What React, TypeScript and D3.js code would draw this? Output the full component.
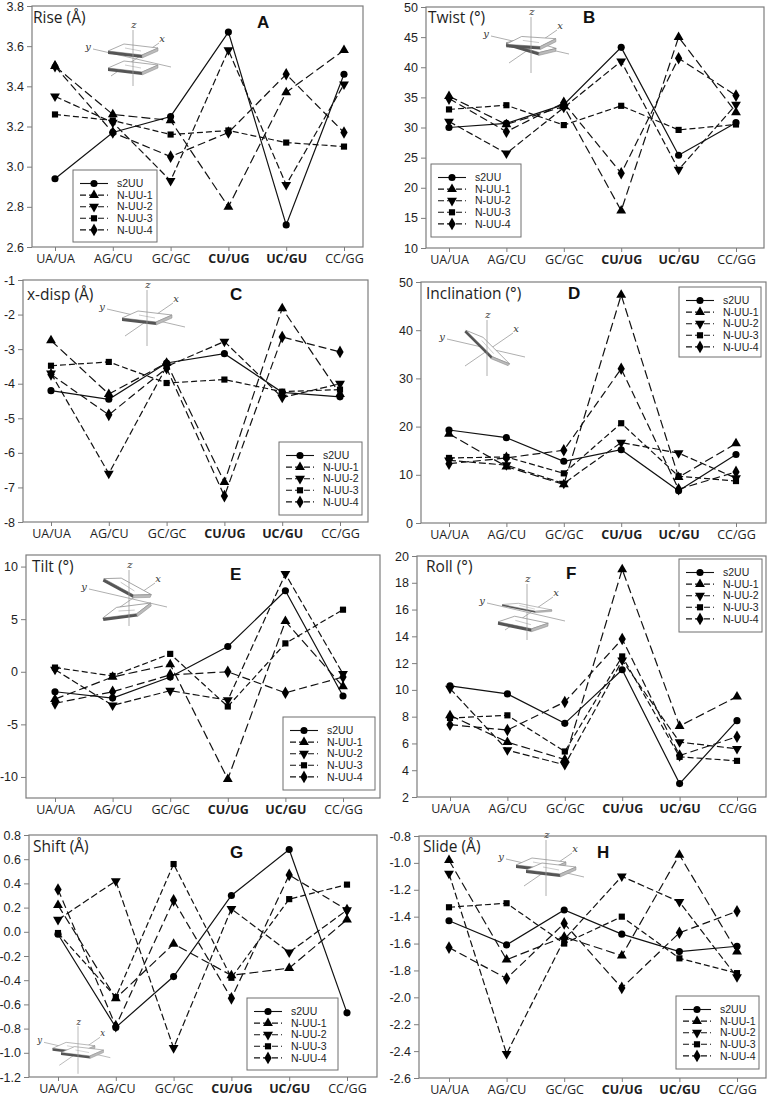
import * as React from 'react';
import * as d3 from 'd3';

const categories = ['UA/UA', 'AG/CU', 'GC/GC', 'CU/UG', 'UC/GU', 'CC/GG'];
const boldCategories = ['CU/UG', 'UC/GU'];
const seriesNames = ['s2UU', 'N-UU-1', 'N-UU-2', 'N-UU-3', 'N-UU-4'];

// one row per series (same order as seriesNames), one column per category
const rise = [
    [2.94, 3.17, 3.25, 3.67, 2.71, 3.46],
    [3.50, 3.26, 3.23, 2.80, 3.37, 3.58],
    [3.35, 3.22, 2.93, 3.58, 2.91, 3.41],
    [3.26, 3.23, 3.16, 3.18, 3.12, 3.10],
    [3.50, 3.17, 3.05, 3.17, 3.46, 3.17]
];
const twist = [
    [30.0, 30.7, 33.8, 43.3, 25.4, 30.8],
    [35.2, 30.5, 33.5, 16.2, 45.0, 32.5],
    [31.0, 25.7, 33.3, 41.0, 23.0, 33.8],
    [33.0, 33.7, 30.4, 33.6, 29.6, 30.5],
    [34.8, 29.3, 34.1, 22.4, 41.5, 35.3]
];
const xdisp = [
    [-4.20, -4.45, -3.40, -3.13, -4.25, -4.38],
    [-2.75, -4.30, -3.40, -6.85, -1.82, -4.30],
    [-3.70, -6.60, -3.50, -2.78, -4.40, -4.00],
    [-3.48, -3.37, -3.98, -3.88, -4.23, -4.17],
    [-3.73, -4.90, -3.55, -7.25, -2.65, -3.08]
];
const inclination = [
    [19.3, 17.7, 12.8, 15.2, 6.7, 14.2],
    [18.5, 11.7, 8.0, 47.3, 9.5, 16.5],
    [13.0, 12.0, 8.2, 16.7, 14.5, 9.3],
    [13.5, 13.7, 10.3, 20.7, 9.7, 8.7],
    [12.3, 13.5, 15.1, 32.0, 7.0, 10.6]
];
const tilt = [
    [-1.9, -2.5, -0.5, 2.4, 7.7, -2.3],
    [-2.6, -0.5, 0.7, -10.2, 4.8, -1.4],
    [0.2, -3.2, -1.8, -2.7, 9.3, -0.2],
    [0.4, -0.4, 1.7, -3.3, 2.7, 5.9],
    [-3.0, -1.9, -0.3, 0.0, -2.0, -0.5]
];
const roll = [
    [10.3, 9.7, 7.5, 11.5, 3.0, 7.7],
    [8.1, 6.1, 4.8, 19.0, 7.3, 9.5],
    [10.1, 5.5, 4.4, 12.2, 6.1, 5.6],
    [7.9, 8.1, 5.4, 12.5, 5.0, 4.7],
    [7.4, 7.0, 9.1, 13.8, 5.1, 6.5]
];
const shift = [
    [-0.02, -0.79, -0.37, 0.30, 0.68, -0.67],
    [0.22, -0.55, -0.10, -0.36, -0.30, 0.10],
    [0.10, 0.42, -0.96, 0.19, -0.17, 0.18],
    [-0.01, -0.54, 0.56, -0.38, 0.27, 0.39],
    [0.35, -0.78, 0.26, -0.55, 0.47, 0.18]
];
const slide = [
    [-1.43, -1.61, -1.35, -1.53, -1.66, -1.62],
    [-0.98, -1.72, -1.55, -1.69, -0.94, -1.66],
    [-1.08, -2.42, -1.57, -1.10, -1.29, -1.85],
    [-1.33, -1.30, -1.60, -1.40, -1.71, -1.82],
    [-1.63, -1.86, -1.45, -1.93, -1.52, -1.36]
];

const riseTicks = [2.6, 2.8, 3.0, 3.2, 3.4, 3.6, 3.8];
const twistTicks = [10, 15, 20, 25, 30, 35, 40, 45, 50];
const xdispTicks = [-8, -7, -6, -5, -4, -3, -2, -1];
const inclinationTicks = [0, 10, 20, 30, 40, 50];
const tiltTicks = [-10, -5, 0, 5, 10];
const rollTicks = [2, 4, 6, 8, 10, 12, 14, 16, 18, 20];
const shiftTicks = [-1.2, -1.0, -0.8, -0.6, -0.4, -0.2, 0.0, 0.2, 0.4, 0.6, 0.8];
const slideTicks = [-2.6, -2.4, -2.2, -2.0, -1.8, -1.6, -1.4, -1.2, -1.0, -0.8];

const dashes = [null, '9,4', '7,3', '6,3', '8,4'];
const symbols = [d3.symbolCircle, d3.symbolTriangle, d3.symbolTriangle, d3.symbolSquare, d3.symbolDiamond];
const symbolSizes = [40, 42, 42, 38, 46];

const panels = [
    {title: 'Rise (Å)', letter: 'A', data: rise, ticks: riseTicks, dec: 1, domain: [2.6, 3.8],
        box: {l: 32, t: 6, r: 363, b: 247}, padL: 23, padR: 19,
        titlePos: [33, 23], letterPos: [257, 28], legend: [73, 170, 84, 72],
        inset: {x: 133, y: 58, s: 1, slabs: ['translate(0,-7)', 'translate(0,10)']}},
    {title: 'Twist (°)', letter: 'B', data: twist, ticks: twistTicks, dec: 0, domain: [10, 50],
        box: {l: 426, t: 7, r: 764, b: 248}, padL: 23, padR: 28,
        titlePos: [428, 23], letterPos: [583, 23], legend: [431, 164, 90, 73],
        inset: {x: 531, y: 45, s: 1, slabs: ['translate(0,2) rotate(10)', 'translate(0,-2) rotate(-3)']}},
    {title: 'x-disp (Å)', letter: 'C', data: xdisp, ticks: xdispTicks, dec: 0, domain: [-8, -1],
        box: {l: 23, t: 280, r: 368, b: 522}, padL: 28, padR: 28,
        titlePos: [27, 300], letterPos: [230, 300], legend: [279, 442, 83, 73],
        inset: {x: 147, y: 318, s: 1, slabs: ['translate(0,0)']}},
    {title: 'Inclination (°)', letter: 'D', data: inclination, ticks: inclinationTicks, dec: 0, domain: [0, 50],
        box: {l: 421, t: 282, r: 766, b: 523}, padL: 28, padR: 30,
        titlePos: [426, 299], letterPos: [568, 299], legend: [679, 287, 82, 70],
        inset: {x: 487, y: 348, s: 1, slabs: ['rotate(40) scale(1.1,0.8)']}},
    {title: 'Tilt (°)', letter: 'E', data: tilt, ticks: tiltTicks, dec: 0, domain: [-12, 11.1],
        box: {l: 26, t: 555, r: 380, b: 798}, padL: 29, padR: 37,
        titlePos: [32, 572], letterPos: [230, 580], legend: [283, 717, 92, 73],
        inset: {x: 129, y: 598, s: 1, slabs: ['translate(-2,-10) rotate(22)', 'translate(-2,14) rotate(-14)']}},
    {title: 'Roll (°)', letter: 'F', data: roll, ticks: rollTicks, dec: 0, domain: [2, 20],
        box: {l: 417, t: 556, r: 766, b: 797}, padL: 33, padR: 29,
        titlePos: [426, 572], letterPos: [566, 579], legend: [679, 559, 83, 73],
        inset: {x: 527, y: 612, s: 1, slabs: ['translate(0,-4) rotate(8) scale(1,0.5)', 'translate(-4,12) rotate(5)']}},
    {title: 'Shift (Å)', letter: 'G', data: shift, ticks: shiftTicks, dec: 1, domain: [-1.2, 0.8],
        box: {l: 29, t: 835, r: 377, b: 1077}, padL: 29, padR: 30,
        titlePos: [33, 852], letterPos: [230, 858], legend: [247, 998, 91, 72],
        inset: {x: 78, y: 1050, s: 0.85, slabs: ['translate(-5,-2)', 'translate(5,3)']}},
    {title: 'Slide (Å)', letter: 'H', data: slide, ticks: slideTicks, dec: 1, domain: [-2.6, -0.8],
        box: {l: 419, t: 836, r: 766, b: 1078}, padL: 30, padR: 29,
        titlePos: [423, 852], letterPos: [597, 858], legend: [676, 996, 83, 73],
        inset: {x: 546, y: 868, s: 1, slabs: ['translate(-5,-3)', 'translate(5,2)']}}
];

const frameColor = '#7d7d7d';
const textColor = '#1e1e1e';

function drawSymbol(g, i, cx, cy) {
    const path = d3.symbol().type(symbols[i]).size(symbolSizes[i])();
    g.append('path')
        .attr('d', path)
        .attr('transform', 'translate(' + cx + ',' + cy + ')' + (i === 2 ? ' rotate(180)' : ''))
        .attr('fill', '#000');
}

function drawInset(svg, ins) {
    const g = svg.append('g').attr('transform', 'translate(' + ins.x + ',' + ins.y + ') scale(' + ins.s + ')');
    const axisColor = '#9a9a9a';
    g.append('line').attr('x1', -40).attr('y1', -9).attr('x2', 38).attr('y2', 9).attr('stroke', axisColor).attr('stroke-width', 0.8);
    g.append('line').attr('x1', -22).attr('y1', 18).attr('x2', 26).attr('y2', -15).attr('stroke', axisColor).attr('stroke-width', 0.8);
    ins.slabs.forEach(function(t) {
        const s = g.append('g').attr('transform', t);
        s.append('polygon').attr('points', '-25,0 -9,-7 25,-3 9,4').attr('fill', '#fff').attr('stroke', '#888').attr('stroke-width', 0.7);
        s.append('polygon').attr('points', '-25,0 9,4 9,7 -25,3').attr('fill', '#555');
        s.append('polygon').attr('points', '9,4 25,-3 25,0 9,7').attr('fill', '#bbb').attr('stroke', '#888').attr('stroke-width', 0.5);
        s.append('line').attr('x1', -8).attr('y1', -3).attr('x2', 8).attr('y2', 0).attr('stroke', '#aaa').attr('stroke-width', 0.6);
    });
    g.append('line').attr('x1', 0).attr('y1', -28).attr('x2', 0).attr('y2', 28).attr('stroke', axisColor).attr('stroke-width', 0.8);
    const lab = {'font-family': 'DejaVu Serif, serif', 'font-style': 'italic', 'font-size': 10, fill: '#333'};
    const z = g.append('text').attr('x', 1).attr('y', -30).attr('text-anchor', 'middle').text('z');
    const y = g.append('text').attr('x', -45).attr('y', -8).attr('text-anchor', 'middle').text('y');
    const x = g.append('text').attr('x', 29).attr('y', -16).attr('text-anchor', 'middle').text('x');
    [z, y, x].forEach(function(t) {
        Object.keys(lab).forEach(function(k) { t.attr(k, lab[k]); });
    });
}

function drawPanel(svg, p) {
    const g = svg.append('g');
    const x = d3.scalePoint().domain(categories).range([p.box.l + p.padL, p.box.r - p.padR]);
    const y = d3.scaleLinear().domain(p.domain).range([p.box.b, p.box.t]);

    g.append('rect')
        .attr('x', p.box.l).attr('y', p.box.t)
        .attr('width', p.box.r - p.box.l).attr('height', p.box.b - p.box.t)
        .attr('fill', 'none').attr('stroke', frameColor).attr('stroke-width', 1.2);

    const yAxis = d3.axisLeft(y).tickValues(p.ticks).tickSize(5).tickPadding(3)
        .tickFormat(function(d) { return (+d).toFixed(p.dec); });
    const ya = g.append('g').attr('transform', 'translate(' + p.box.l + ',0)').call(yAxis);
    ya.select('.domain').remove();
    ya.selectAll('line').attr('stroke', frameColor);
    ya.selectAll('text').attr('font-family', 'Liberation Sans, Arial, sans-serif').attr('font-size', 12.5).attr('fill', textColor);

    const xAxis = d3.axisBottom(x).tickSize(4).tickPadding(3);
    const xa = g.append('g').attr('transform', 'translate(0,' + p.box.b + ')').call(xAxis);
    xa.select('.domain').remove();
    xa.selectAll('line').attr('stroke', frameColor);
    xa.selectAll('text')
        .attr('font-family', 'Open Sans, sans-serif').attr('font-size', 12.5).attr('fill', textColor)
        .attr('font-weight', function(d) { return boldCategories.indexOf(d) >= 0 ? 'bold' : 'normal'; });

    drawInset(g, p.inset);

    g.append('text').attr('x', p.titlePos[0]).attr('y', p.titlePos[1])
        .attr('font-family', 'Open Sans, sans-serif').attr('font-size', 15.5).attr('fill', textColor)
        .text(p.title);
    g.append('text').attr('x', p.letterPos[0]).attr('y', p.letterPos[1])
        .attr('font-family', 'Liberation Sans, Arial, sans-serif').attr('font-weight', 'bold').attr('font-size', 17).attr('fill', '#111')
        .text(p.letter);

    const line = d3.line().x(function(d, i) { return x(categories[i]); }).y(function(d) { return y(d); });
    p.data.forEach(function(vals, si) {
        g.append('path').datum(vals).attr('d', line)
            .attr('fill', 'none').attr('stroke', '#111').attr('stroke-width', 1.2)
            .attr('stroke-dasharray', dashes[si]);
    });
    p.data.forEach(function(vals, si) {
        vals.forEach(function(v, i) { drawSymbol(g, si, x(categories[i]), y(v)); });
    });

    const [lx, ly, lw, lh] = p.legend;
    g.append('rect').attr('x', lx).attr('y', ly).attr('width', lw).attr('height', lh)
        .attr('fill', '#fff').attr('stroke', '#6f6f6f').attr('stroke-width', 1);
    seriesNames.forEach(function(name, si) {
        const ry = ly + 13.5 + si * 11.6;
        g.append('line').attr('x1', lx + 7).attr('x2', lx + 35).attr('y1', ry).attr('y2', ry)
            .attr('stroke', '#111').attr('stroke-width', 1.1).attr('stroke-dasharray', si === 0 ? null : '6,3');
        drawSymbol(g, si, lx + 21, ry);
        g.append('text').attr('x', lx + 44).attr('y', ry).attr('dy', '0.35em')
            .attr('font-family', 'Liberation Sans, Arial, sans-serif').attr('font-size', 10.5).attr('fill', textColor)
            .text(name);
    });
}

export default function App() {
    const ref = React.useRef(null);
    React.useEffect(function() {
        document.body.style.margin = '0';
        const svg = d3.select(ref.current);
        svg.selectAll('*').remove();
        svg.append('rect').attr('width', 768).attr('height', 1097).attr('fill', '#fff');
        panels.forEach(function(p) { drawPanel(svg, p); });
    }, []);
    return <svg ref={ref} width={768} height={1097} style={{display: 'block'}} />;
}
